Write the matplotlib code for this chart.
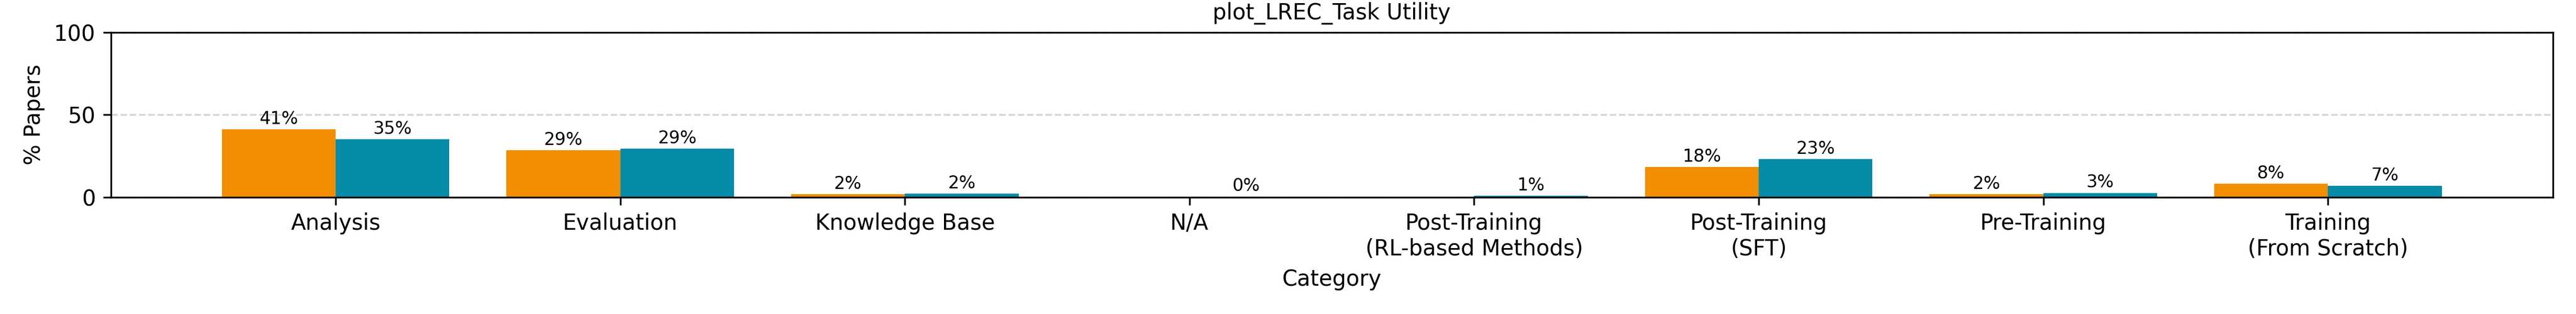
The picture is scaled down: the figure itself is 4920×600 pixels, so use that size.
import numpy as np
import matplotlib
matplotlib.use("Agg")
import matplotlib.pyplot as plt

categories = ["Analysis", "Evaluation", "Knowledge Base", "N/A",
              "Post-Training\n(RL-based Methods)", "Post-Training\n(SFT)",
              "Pre-Training", "Training\n(From Scratch)"]
series_a = [41.3, 28.6, 1.8, 0.0, 0.0, 18.4, 1.8, 8.3]
series_b = [35.2, 29.4, 2.2, 0.4, 0.9, 23.2, 2.6, 6.9]
colors = ["#F18F01", "#048BA8"]

fig, ax = plt.subplots(figsize=(16.4, 2), dpi=300)
fig.subplots_adjust(left=0.043, right=0.991, top=0.897, bottom=0.372)

x = np.arange(len(categories))
width = 0.4
bars_a = ax.bar(x - width / 2, series_a, width, color=colors[0])
bars_b = ax.bar(x + width / 2, series_b, width, color=colors[1])

# label only the bars that have a height
for bars in (bars_a, bars_b):
    for b in bars:
        h = b.get_height()
        if h > 0:
            ax.text(b.get_x() + b.get_width() / 2, h + 1, f"{h:.0f}%",
                    ha="center", va="bottom", fontsize=8)

ax.set_ylim(0, 100)
ax.set_yticks([0, 50, 100])
ax.set_xticks(x)
ax.set_xticklabels(categories, fontsize=10)
ax.set_xlabel("Category", fontsize=10)
ax.set_ylabel("% Papers", fontsize=10)
ax.set_title("plot_LREC_Task Utility", fontsize=10)
ax.grid(axis="y", linestyle="--", color="#d3d3d3", linewidth=0.8)
ax.set_axisbelow(True)
for s in ax.spines.values():
    s.set_linewidth(0.8)

fig.savefig("out.png", dpi=300)
